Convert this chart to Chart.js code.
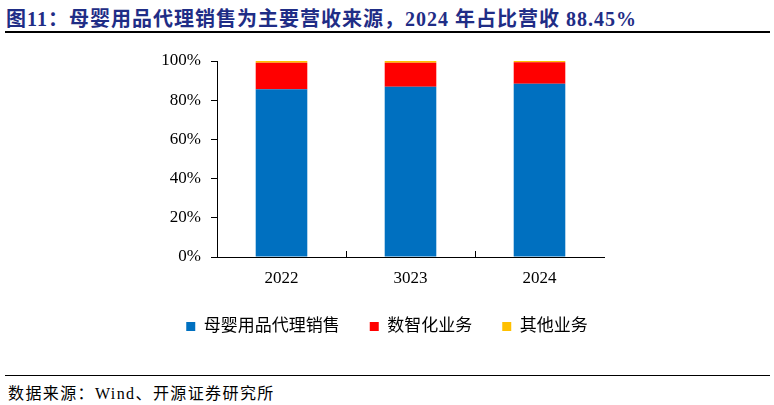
<!DOCTYPE html>
<html><head><meta charset="utf-8">
<script src="https://cdn.jsdelivr.net/npm/chart.js@4.4.1/dist/chart.umd.min.js"></script>
<style>
html,body{margin:0;padding:0;background:#fff;width:774px;height:405px;overflow:hidden;}
#title{position:absolute;left:6px;top:3px;font:bold 20px "Liberation Serif","Noto Sans CJK SC",serif;color:#1F2D86;white-space:nowrap;letter-spacing:1px;}
#l1{position:absolute;left:5px;top:31px;width:765px;height:1.5px;background:#000;}
#l2{position:absolute;left:5px;top:375px;width:765px;height:1px;background:#000;}
#src{position:absolute;left:8px;top:380px;font:16px "Liberation Serif","Noto Sans CJK SC",serif;color:#000;white-space:nowrap;letter-spacing:1.4px;}
#wrap{position:absolute;left:0;top:40px;width:774px;height:310px;}
</style></head><body>
<div id="title">图11：母婴用品代理销售为主要营收来源，2024 年占比营收 88.45%</div>
<div id="l1"></div>
<div id="wrap"><canvas id="c"></canvas></div>
<div id="l2"></div>
<div id="src">数据来源：Wind、开源证券研究所</div>
<script>
const categories = ["2022", "3023", "2024"];
const seriesNames = ["母婴用品代理销售", "数智化业务", "其他业务"];
const babyProducts = [85.6, 86.8, 88.45];
const digital = [13.5, 12.3, 10.9];
const other = [0.9, 0.9, 0.65];
const yTicks = [0, 20, 40, 60, 80, 100];

const fontFam = '"Liberation Serif","Noto Sans CJK SC",serif';

const innerTicks = {
  id: 'innerTicks',
  afterDatasetsDraw(chart) {
    const x = chart.scales.x, ctx = chart.ctx;
    const b = chart.chartArea.bottom;
    ctx.save();
    ctx.strokeStyle = '#000';
    ctx.lineWidth = 1;
    for (let i = 1; i < categories.length; i++) {
      const px = Math.round((x.getPixelForValue(i - 1) + x.getPixelForValue(i)) / 2) + 0.5;
      ctx.beginPath(); ctx.moveTo(px, b); ctx.lineTo(px, b - 6); ctx.stroke();
    }
    ctx.restore();
  }
};

new Chart(document.getElementById('c'), {
  type: 'bar',
  data: {
    labels: categories,
    datasets: [
      {label: seriesNames[0], data: babyProducts, backgroundColor: '#0070C0'},
      {label: seriesNames[1], data: digital, backgroundColor: '#FF0000'},
      {label: seriesNames[2], data: other, backgroundColor: '#FFC000'}
    ]
  },
  options: {
    responsive: true, maintainAspectRatio: false, animation: false,
    layout: {padding: {left: 0, right: 0, top: 21, bottom: 5}},
    datasets: {bar: {categoryPercentage: 1, barPercentage: 0.4}},
    plugins: {
      legend: {
        position: 'bottom',
        labels: {boxWidth: 9, boxHeight: 9, padding: 30, color: '#000',
          font: {family: fontFam, size: 17}}
      },
      tooltip: {enabled: false}
    },
    scales: {
      x: {
        stacked: true,
        grid: {display: false, drawTicks: false},
        border: {color: '#000', width: 1},
        ticks: {color: '#000', padding: 11, font: {family: fontFam, size: 17}},
        afterFit(s) { s.height = 31; }
      },
      y: {
        stacked: true, min: 0, max: 100,
        afterBuildTicks(s) { s.ticks = yTicks.map(v => ({value: v})); },
        grid: {drawOnChartArea: false, drawTicks: true, tickLength: 6, color: '#000'},
        border: {color: '#000', width: 1},
        ticks: {color: '#000', padding: 10, font: {family: fontFam, size: 17},
          callback: v => v + '%'},
        afterFit(s) { s.width = 217; }
      },
      yPad: {
        position: 'right', min: 0, max: 100,
        grid: {display: false},
        border: {display: false},
        ticks: {display: false},
        afterFit(s) { s.width = 170; }
      }
    }
  },
  plugins: [innerTicks]
});
</script>
</body></html>
